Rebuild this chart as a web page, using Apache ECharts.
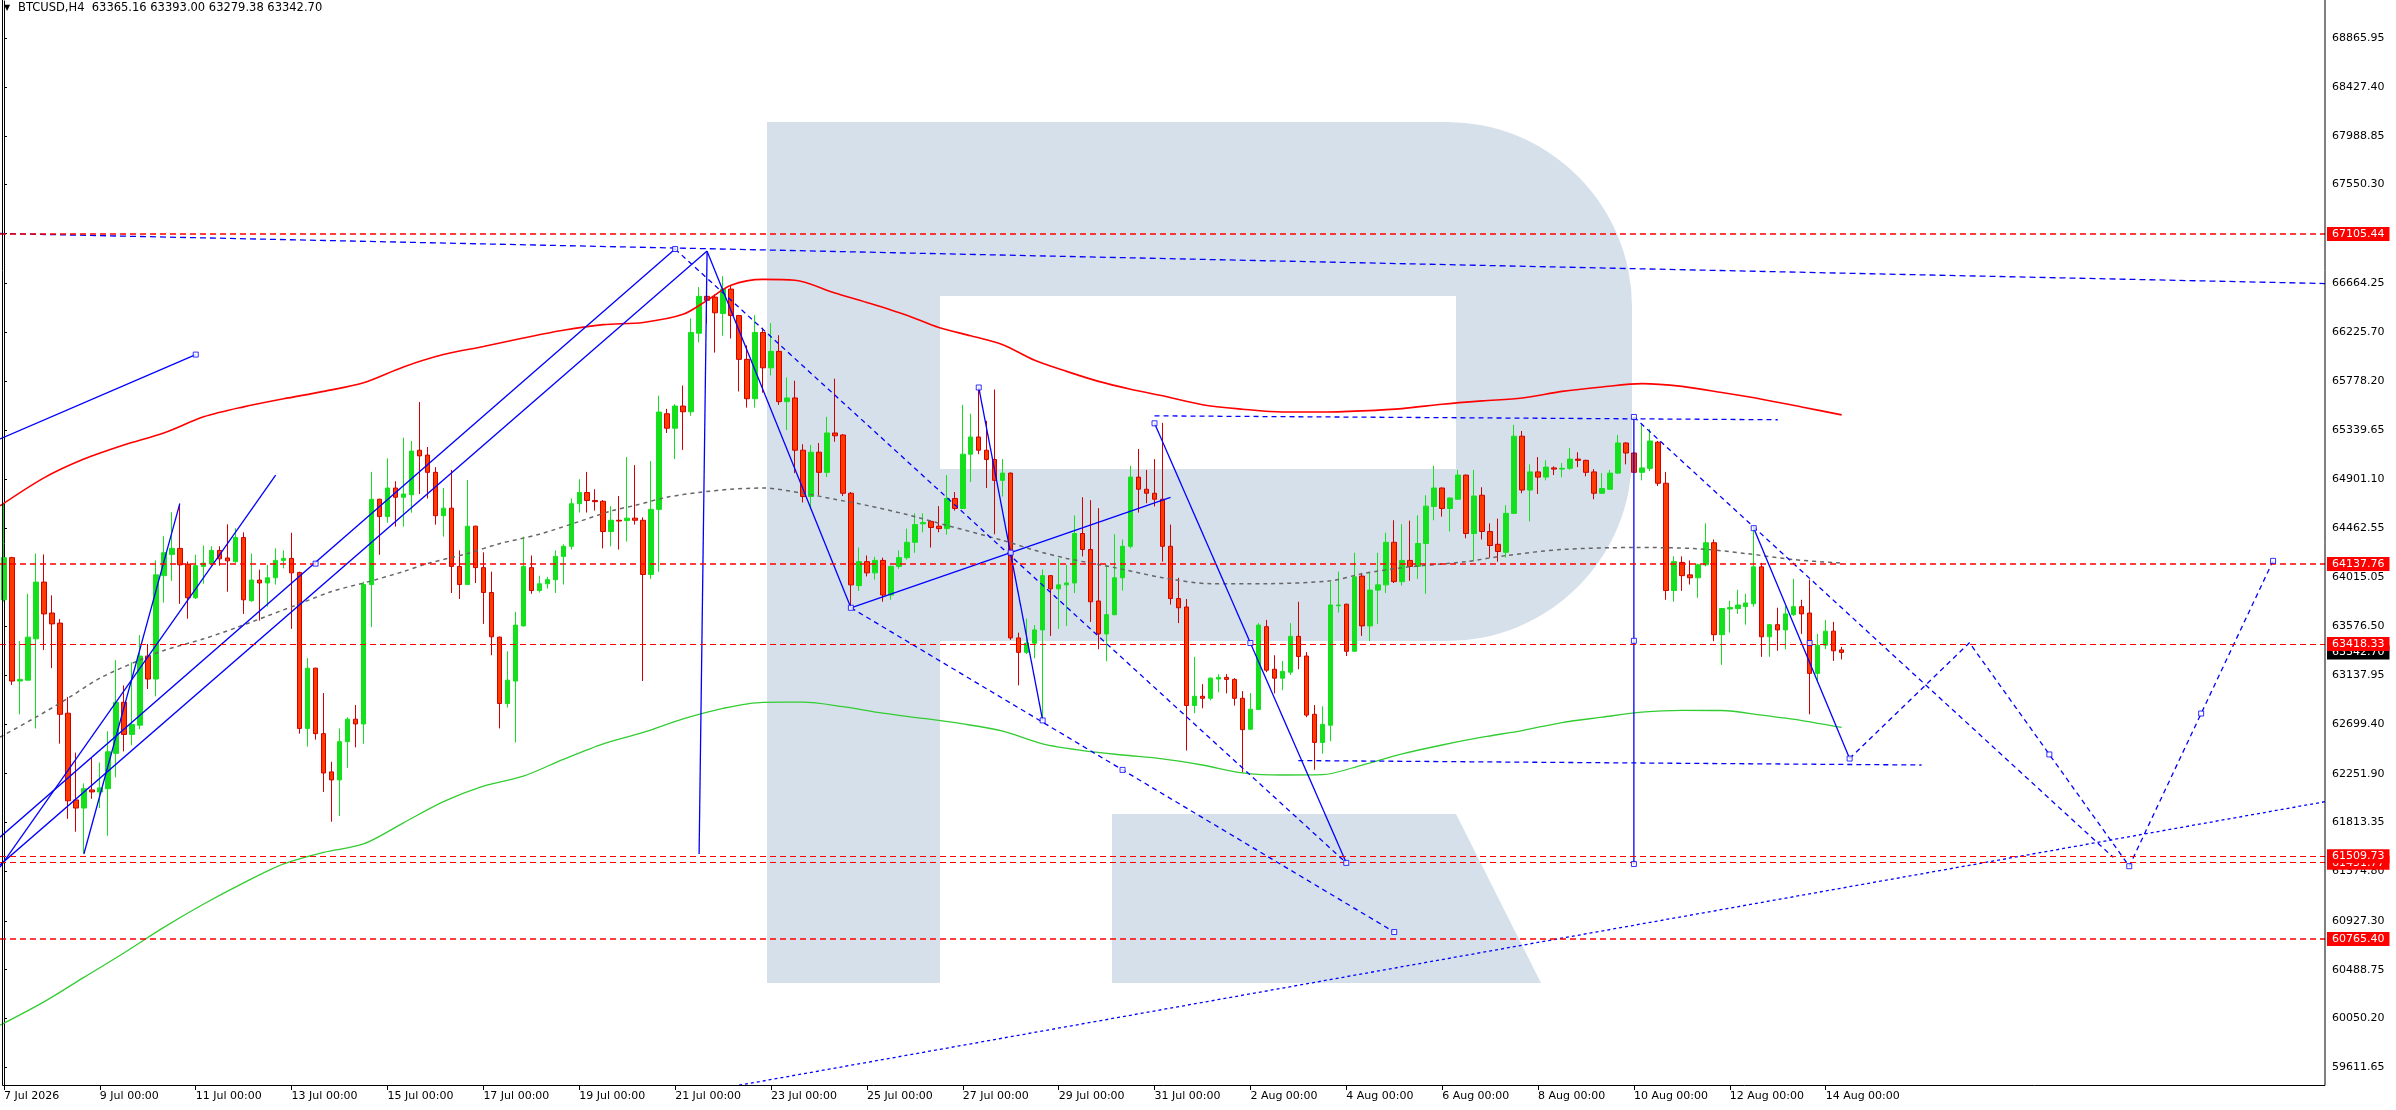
<!DOCTYPE html>
<html>
<head>
<meta charset="utf-8">
<title>BTCUSD,H4</title>
<script src="https://cdn.jsdelivr.net/npm/echarts@6/dist/echarts.min.js"></script>
<style>
html,body{margin:0;padding:0;background:#fff;}
#main{width:2396px;height:1110px;}
</style>
</head>
<body>
<div id="main"></div>
<script>
// H4 bars, 7 Jul 2026 00:00 .. 14 Aug 2026 08:00
var openP = [63816,64195,63085,63093,63465,63975,63697,63606,62796,62016,61943,62106,62088,62117,62435,62894,62605,62688,63310,63103,
64033,64224,64278,64137,63834,64116,64137,64260,64192,64159,64376,63808,63993,63967,64014,64170,64188,64061,62659,63201,
62612,62268,62196,62540,62742,62699,63953,64720,64564,64821,64738,64760,65161,65117,64962,64572,64640,64116,63953,64478,
64105,63881,63480,62883,63085,63581,64105,63899,63960,63997,64206,64297,64680,64781,64709,64702,64430,64531,64528,64550,
64531,64043,64629,65489,65359,65558,65507,66213,66545,66538,66390,66610,66372,65978,65624,66220,65902,66050,65598,65631,
65161,64745,65143,64962,65316,65298,64774,63943,64159,64058,64170,63859,64116,64195,64333,64499,64521,64478,64456,64727,
64637,65125,65280,65161,65078,64890,64955,63473,63343,63426,63545,64033,63914,63950,63967,64412,64268,63805,63509,63682,
64014,64297,64919,64810,64774,64720,64297,63827,63751,62865,62948,62930,63103,63118,63100,62930,62652,62829,63574,63191,
63111,63165,63487,63310,62786,62533,62688,63762,63776,63353,64029,63581,63903,63950,64333,63979,64170,64116,64322,64655,
64821,64637,64720,64937,64412,64756,64430,64315,64243,64593,65287,64803,64966,64919,65002,64991,64998,65081,65070,64966,
64774,64810,64955,65226,65136,64962,64998,65233,64864,63899,64152,64040,64014,64130,64329,63502,63733,63737,63754,63780,
64112,63483,63592,63545,63682,63754,63697,63154,63408,63534,63365.16];
var highP = [64684,64203,63444,63870,64232,64224,63856,63642,62941,62442,62164,62395,62352,62634,63273,63046,63255,63498,63418,64170,
64387,64604,64680,64159,64221,64304,64297,64297,64495,64459,64423,64232,64087,64130,64278,64260,64419,64069,63291,63205,
62977,62359,62659,62760,62869,63978,64966,64725,65088,64882,65273,65244,65595,65190,65009,64821,64984,64260,64893,64482,
64243,64069,63485,63353,63707,64384,64214,64033,64022,64260,64315,64727,64900,64966,64810,64712,64658,64749,65099,65027,
64557,65063,65652,65533,65576,65743,66346,66628,66610,66563,66726,66643,66378,66104,66375,66263,66303,66195,65815,65786,
65215,65208,65226,65461,65804,65305,64785,64286,64214,64203,64195,64123,64260,64456,64593,64593,64531,64658,64937,64785,
65569,65489,65721,65425,65707,65081,64960,63520,63646,63588,64087,64038,64188,64130,64575,64738,64712,64640,64130,64405,
64358,65020,65172,64984,65081,65407,64492,64014,63823,63303,63057,63118,63147,63147,63111,62995,62977,63606,63635,63317,
63266,63606,63798,63346,62869,62858,63978,64069,63781,64239,64058,64058,64239,64419,64531,64495,64528,64575,64756,65020,
64826,64736,64984,64942,64984,64828,64503,64546,64666,65389,65334,65034,65099,65070,65016,65045,65182,65143,65075,64991,
64955,64984,65298,65233,65141,65389,65352,65244,64966,64206,64206,64170,64141,64503,64358,63742,63808,63906,63870,64456,
64148,63597,63744,63762,64004,63816,63997,63509,63635,63617,63393.00];
var lowP = [63798,63050,62786,63093,62659,63364,63201,62522,61846,61730,61538,62026,61943,61694,62218,62453,62507,62652,63013,62948,
63790,63986,63779,63646,63823,63960,64123,64123,63888,64148,63689,63798,63628,63754,63953,64098,63555,62612,62496,62558,
62088,61820,61871,62305,62489,62522,63570,64221,64510,64474,64474,64600,64767,64727,64492,64384,63877,63823,63948,63967,
63599,63317,62659,62847,62533,63576,63870,63881,63917,63877,63953,64268,64600,64600,64618,64278,64297,64268,64340,64492,
63085,64004,64069,65316,65081,65164,65471,66130,66300,66039,66191,66166,65689,65544,65544,65678,65833,65569,65342,64955,
64691,64629,64756,64919,65237,64749,63754,63896,64026,63997,63798,63816,64094,64177,64239,64423,64286,64423,64402,64618,
64632,64875,65125,64821,64405,64745,63455,63046,63328,63291,62732,63491,63555,63581,63877,64206,63617,63371,63263,63677,
63899,64278,64600,64684,64655,64159,63773,63606,62460,62796,62840,62912,62984,62974,62865,62261,62647,62824,63165,62974,
63003,63140,63191,62760,62287,62432,62544,63700,63310,63348,63491,63444,63599,63877,63967,63943,63986,64004,63870,64531,
64564,64430,64715,64369,64166,64358,64195,64159,64195,64588,64774,64521,64767,64890,64937,64918,64984,65009,64926,64720,
64769,64803,64950,65034,64955,64890,64973,64839,63816,63798,63896,63953,63834,64116,63444,63230,63520,63689,63592,63754,
63303,63303,63357,63371,63671,63509,62786,63075,63371,63266,63279.38];
var closeP = [64195,63085,63100,63480,63975,63689,63599,62786,62008,61943,62117,62088,62124,62449,62894,62605,62695,63310,63103,64040,
64239,64278,64130,63834,64123,64145,64260,64184,64166,64376,63816,63993,63967,64014,64170,64188,64058,62659,63201,62612,
62258,62196,62540,62742,62699,63953,64720,64564,64821,64738,64767,65153,65110,64962,64572,64640,64116,63953,64478,64105,
63881,63483,62883,63093,63588,64116,63899,63960,63997,64206,64297,64680,64781,64709,64698,64430,64531,64524,64550,64531,
64043,64629,65504,65359,65558,65507,66220,66545,66509,66397,66610,66372,65978,65624,66220,65902,66050,65598,65631,65161,
64745,65143,64962,65316,65291,64774,63950,64159,64058,64170,63859,64116,64195,64333,64492,64510,64466,64456,64727,64637,
65125,65280,65161,65078,64890,64955,63473,63343,63426,63545,64033,63914,63950,63967,64412,64268,63798,63509,63682,64014,
64297,64919,64810,64774,64720,64297,63827,63744,62865,62948,62930,63111,63118,63100,62930,62648,62832,63588,63183,63111,
63172,63487,63306,62779,62533,62695,63769,63769,63353,64022,63581,63903,63950,64333,63979,64170,64116,64322,64658,64821,
64637,64731,64937,64412,64749,64430,64304,64250,64593,65287,64803,64966,64919,65009,64991,64998,65081,65070,64962,64774,
64817,64955,65226,65136,64962,65002,65244,64864,63899,64159,64033,64014,64130,64329,63502,63737,63747,63769,63787,64112,
63483,63592,63545,63689,63754,63689,63154,63408,63534,63357,63342.70];

// moving averages as [bar, price]
var redMA = [[-0.5,64660],[5,64912],[10,65081],[15,65208],[20,65316],[25,65461],[30,65551],[35,65623],[40,65690],[45,65768],
[50,65910],[55,66021],[60,66093],[65,66170],[70,66240],[75,66290],[80,66310],[85,66383],[88,66509],[91,66645],[95,66697],
[99,66690],[104,66575],[108,66490],[113,66375],[117,66265],[121,66190],[125,66110],[129,65970],[133,65870],[137,65780],
[141,65710],[145,65650],[150,65570],[155,65530],[160,65504],[165,65504],[170,65515],[175,65535],[180,65575],[185,65605],
[190,65630],[195,65690],[200,65730],[205,65760],[210,65735],[215,65680],[220,65620],[225,65550],[230,65479]];
var greenMA = [[-0.5,59990],[5,60200],[10,60420],[15,60640],[20,60870],[25,61080],[30,61270],[35,61440],[40,61545],[45,61620],
[50,61810],[55,62000],[60,62140],[65,62230],[70,62380],[75,62520],[80,62623],[85,62745],[90,62840],[95,62894],[100,62895],
[105,62855],[110,62796],[115,62750],[120,62700],[125,62635],[130,62520],[135,62460],[140,62420],[145,62385],[150,62330],
[155,62260],[160,62240],[165,62243],[170,62330],[175,62430],[180,62510],[185,62580],[190,62640],[195,62712],[200,62760],
[205,62805],[210,62822],[215,62820],[220,62778],[225,62730],[230,62668]];
var grayMA = [[-0.5,62580],[4,62760],[8,62930],[12,63111],[17,63274],[20,63360],[25,63465],[29,63563],[33,63671],[37,63780],
[41,63890],[46,63986],[50,64070],[53,64141],[58,64232],[62,64320],[67,64405],[72,64520],[76,64615],[79,64665],[83,64738],
[87,64781],[91,64810],[95,64821],[100,64774],[104,64720],[108,64665],[113,64582],[118,64485],[125,64350],[129,64261],
[133,64188],[139,64105],[145,64015],[151,63961],[158,63961],[166,63986],[170,64050],[175,64105],[183,64159],[188,64214],
[195,64268],[204,64286],[212,64275],[218,64232],[224,64177],[230,64145]];

// drawn objects: [bar, price]
var solidLines = [
    [[-0.5,65262],[24,66021]],
    [[-0.5,61681],[84,66970]],
    [[-0.5,61431],[88,66952]],
    [[-0.5,61411],[34,64938]],
    [[10,61530],[22,64680]],
    [[87,61530],[88,66950]],
    [[88,66950],[106,63744]],
    [[106,63744],[146,64737]],
    [[122,65725],[130,62731]],
    [[144,65403],[168,61450]],
    [[204,65460],[204,61440]],
    [[219,64460],[231,62388]]
];
var dashedLines = [
    [[84,66970],[168,61450]],
    [[106,63744],[174,60828]],
    [[144,65470],[222,65435]],
    [[162,62370],[240,62330]],
    [[204,65460],[264,61500]],
    [[231,62388],[246,63430],[266,61420],[284,64166]]
];
var topTrend = [[-0.5,67110],[290.5,66660]];
var bottomTrend = [[92,59450],[290.5,62000]];
var anchors = [[24,66021],[39,64141],[84,66970],[106,63744],[126,64240],[122,65725],[130,62731],[140,62286],[144,65403],
[156,63427],[168,61450],[174,60828],[204,65460],[204,63447],[204,61440],[219,64460],[226,63427],[231,62388],
[256,62425],[266,61420],[275,62793],[284,64166]];

var levels = [67105.44, 64137.76, 63418.33, 61509.73, 61451.77, 60765.40];
var levelWidth = [1.5, 1.5, 1, 1, 1, 1.5];
var bidPrice = 63342.70;

var timeLabels = ['7 Jul 2026','9 Jul 00:00','11 Jul 00:00','13 Jul 00:00','15 Jul 00:00','17 Jul 00:00','19 Jul 00:00',
'21 Jul 00:00','23 Jul 00:00','25 Jul 00:00','27 Jul 00:00','29 Jul 00:00','31 Jul 00:00','2 Aug 00:00','4 Aug 00:00',
'6 Aug 00:00','8 Aug 00:00','10 Aug 00:00','12 Aug 00:00','14 Aug 00:00'];
var priceTicks = [68865.95,68427.40,67988.85,67550.30,67111.75,66664.25,66225.70,65778.20,65339.65,64901.10,64462.55,
64015.05,63576.50,63137.95,62699.40,62251.90,61813.35,61374.80,60927.30,60488.75,60050.20,59611.65];

var SLOTS = 291;       // bars plus the empty shift on the right
var LABEL_STEP = 12;   // one label every 2 days
var FONT = 'DejaVu Sans';
var BLUE = '#0000ff';

var slots = [];
for (var i = 0; i < SLOTS; i++) slots.push(String(i));

var candles = [];
for (var i = 0; i < openP.length; i++) {
    candles.push([openP[i], closeP[i], lowP[i], highP[i]]);
}

function showLabel(index) {
    return index % LABEL_STEP === 0 && index / LABEL_STEP < timeLabels.length;
}

function overlay(points, color, type, width) {
    return {
        type: 'line', xAxisIndex: 1, yAxisIndex: 0,
        data: points, symbol: 'none', silent: true, z: 4,
        lineStyle: {color: color, type: type, width: width}
    };
}

function priceTag(bg) {
    return {
        show: true, position: 'end', distance: 2,
        formatter: function (p) { return p.value.toFixed(2); },
        color: '#fff', backgroundColor: bg, padding: [2, 5, 1, 5],
        fontFamily: FONT, fontSize: 11
    };
}

var series = [];

series.push(overlay(greenMA, '#33cc33', 'solid', 1.3));
series.push(overlay(grayMA, '#666666', [4, 4], 1.5));
series.push(overlay(redMA, '#ff0000', 'solid', 1.6));
series[0].smooth = series[1].smooth = series[2].smooth = 0.3;

series.push({
    type: 'candlestick',
    name: 'BTCUSD',
    data: candles,
    barWidth: 5,
    z: 3,
    itemStyle: {
        color: '#14e01e', borderColor: '#14e01e',
        color0: '#ff3a00', borderColor0: '#d00000',
        borderWidth: 1
    }
});

solidLines.forEach(function (l) { series.push(overlay(l, BLUE, 'solid', 1.3)); });
dashedLines.forEach(function (l) { series.push(overlay(l, BLUE, [5, 4], 1.3)); });
series.push(overlay(topTrend, BLUE, [6, 4], 1.3));
series.push(overlay(bottomTrend, BLUE, [3, 3], 1.3));

series.push({
    type: 'scatter', xAxisIndex: 1, yAxisIndex: 0,
    data: anchors, symbol: 'rect', symbolSize: 5, silent: true, z: 6,
    itemStyle: {color: '#ffffff', borderColor: BLUE, borderWidth: 1}
});

// bid price tag (sits under the red tags)
series.push({
    type: 'line', data: [], z: 5,
    markLine: {
        silent: true, symbol: ['none', 'none'], animation: false,
        lineStyle: {color: 'rgba(0,0,0,0)', width: 0},
        label: priceTag('#000000'),
        data: [{yAxis: bidPrice}]
    }
});

// horizontal levels
series.push({
    type: 'line', data: [], z: 7,
    markLine: {
        silent: true, symbol: ['none', 'none'], animation: false,
        label: priceTag('#ff0000'),
        data: levels.slice().reverse().map(function (v, k) {
            var w = levelWidth[levels.length - 1 - k];
            return {yAxis: v, lineStyle: {color: '#ff0000', type: [6, 4], width: w}};
        })
    }
});

var wm = '#d5e0eb';

var option = {
    animation: false,
    backgroundColor: '#ffffff',
    grid: {left: -0.7, right: 71, top: 1, bottom: 24},
    xAxis: [{
        type: 'category',
        data: slots,
        boundaryGap: true,
        axisLine: {show: false},
        axisTick: {show: true, alignWithLabel: true, interval: showLabel, length: 4, lineStyle: {color: '#000'}},
        axisLabel: {
            interval: showLabel,
            formatter: function (v, idx) { return timeLabels[idx / LABEL_STEP]; },
            align: 'left', color: '#000', fontFamily: FONT, fontSize: 11, margin: 5
        },
        splitLine: {show: false}
    }, {
        type: 'value', min: -0.5, max: SLOTS - 0.5, show: false
    }],
    yAxis: {
        type: 'value',
        position: 'right',
        min: 59443.3,
        max: 69200.8,
        axisLine: {show: true, lineStyle: {color: '#000'}},
        axisTick: {show: true, customValues: priceTicks, length: 3, lineStyle: {color: '#000'}},
        axisLabel: {
            customValues: priceTicks,
            formatter: function (v) { return v.toFixed(2); },
            color: '#000', fontFamily: FONT, fontSize: 11, margin: 7
        },
        splitLine: {show: false}
    },
    graphic: [
        // watermark "R"
        {type: 'rect', z: 0, silent: true, shape: {x: 767, y: 122, width: 865, height: 519, r: [0, 185, 185, 0]}, style: {fill: wm}},
        {type: 'rect', z: 0, silent: true, shape: {x: 767, y: 630, width: 173, height: 353}, style: {fill: wm}},
        {type: 'polygon', z: 0, silent: true, shape: {points: [[1112, 814], [1456, 814], [1541, 983], [1112, 983]]}, style: {fill: wm}},
        {type: 'rect', z: 0, silent: true, shape: {x: 940, y: 296, width: 516, height: 173}, style: {fill: '#ffffff'}},
        // chart frame
        {type: 'rect', z: 10, silent: true, shape: {x: 2.5, y: -1, width: 2322.5, height: 1086.5}, style: {fill: 'none', stroke: '#000', lineWidth: 1}},
        // header
        {type: 'text', z: 10, left: 4, top: 4, style: {text: '\u25BC', fontSize: 8, fill: '#000', fontFamily: FONT}},
        {type: 'text', z: 10, left: 18, top: 2, style: {text: 'BTCUSD,H4  63365.16 63393.00 63279.38 63342.70', fontSize: 11.5, fill: '#000', fontFamily: FONT}}
    ],
    series: series
};

var myChart = echarts.init(document.getElementById('main'));
myChart.setOption(option);
</script>
</body>
</html>
